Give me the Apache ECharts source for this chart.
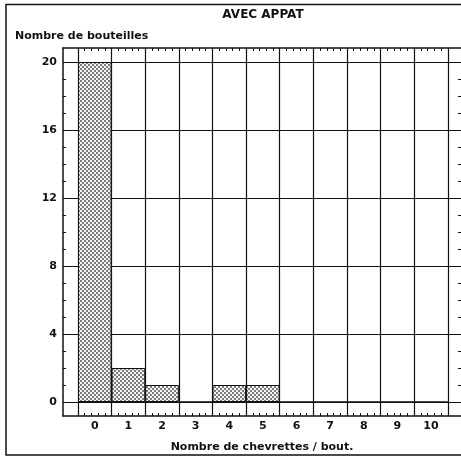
<!DOCTYPE html>
<html>
<head>
<meta charset="utf-8">
<title>AVEC APPAT</title>
<script src="https://cdn.jsdelivr.net/npm/echarts@6/dist/echarts.min.js"></script>
<style>
  html, body { margin: 0; padding: 0; background: #fff; }
  #chart { width: 461px; height: 458px; }
</style>
</head>
<body>
<div id="chart"></div>
<script>
// Number of shrimp caught per bottle (x) and how many bottles had that catch (y)
const categories = ['0', '1', '2', '3', '4', '5', '6', '7', '8', '9', '10'];
const bottleCounts = [20, 2, 1, 0, 1, 1, 0, 0, 0, 0, 0];
const yMin = 0;
const yMax = 20;
const yStep = 4;

const chartTitle = 'AVEC APPAT';
const yName = 'Nombre de bouteilles';
const xName = 'Nombre de chevrettes / bout.';

const FONT = '"DejaVu Sans", sans-serif';
const INK = '#111';

// Stippled fill for the bars
function makeStipple() {
  const c = document.createElement('canvas');
  c.width = 4; c.height = 4;
  const g = c.getContext('2d');
  g.fillStyle = '#f4f4f4';
  g.fillRect(0, 0, 4, 4);
  g.fillStyle = '#444';
  g.beginPath(); g.arc(1, 1, 0.9, 0, Math.PI * 2); g.fill();
  g.beginPath(); g.arc(3, 3, 0.9, 0, Math.PI * 2); g.fill();
  return c;
}

// Frame rows: value 0 sits 14px above the bottom frame, 20 sits 14px below the top
const pxPerUnit = 17;
const pad = 14 / pxPerUnit;

const chart = echarts.init(document.getElementById('chart'), null, { renderer: 'canvas' });

// ticks pointing into the plot (negative length turns them inward)
const innerTicks = () => ({ show: true, length: -3, lineStyle: { color: INK, width: 1 } });
const innerMinor = (n) => ({ show: true, splitNumber: n, length: -3, lineStyle: { color: INK, width: 1 } });
const frameLine = { show: true, onZero: false, lineStyle: { color: INK, width: 1.5 } };

chart.setOption({
  animation: false,
  backgroundColor: '#fff',
  grid: [
    // outer plot frame (its right side runs past the page edge)
    { left: 63, width: 400, top: 48, bottom: 42 },
    // category columns
    { left: 78, width: 369.8, top: 48, bottom: 42 },
    // value rows
    { left: 63, width: 400, top: 62, bottom: 56 }
  ],
  xAxis: [
    {
      gridIndex: 0, type: 'value', min: 0, max: 1, position: 'bottom',
      axisLine: frameLine, axisTick: { show: false }, axisLabel: { show: false }, splitLine: { show: false }
    },
    {
      gridIndex: 1, type: 'category', data: categories, position: 'bottom',
      boundaryGap: true,
      axisLine: { show: false, onZero: false },
      axisTick: { show: false },
      axisLabel: { margin: 5, color: INK, fontFamily: FONT, fontWeight: 'bold', fontSize: 11 },
      splitLine: { show: true, lineStyle: { color: INK, width: 1.2 } }
    },
    {
      gridIndex: 1, type: 'value', min: -0.5, max: 10.5, interval: 1, position: 'bottom',
      axisLine: { show: false, onZero: false },
      axisTick: innerTicks(),
      axisLabel: { show: false },
      splitLine: { show: false },
      minorTick: innerMinor(5)
    },
    {
      gridIndex: 1, type: 'value', min: -0.5, max: 10.5, interval: 1, position: 'top',
      axisLine: { show: false, onZero: false },
      axisTick: innerTicks(),
      axisLabel: { show: false },
      splitLine: { show: false },
      minorTick: innerMinor(5)
    },
    { gridIndex: 2, type: 'value', min: 0, max: 1, show: false },
    {
      gridIndex: 0, type: 'value', min: 0, max: 1, position: 'top',
      axisLine: frameLine, axisTick: { show: false }, axisLabel: { show: false }, splitLine: { show: false }
    }
  ],
  yAxis: [
    {
      gridIndex: 0, type: 'value', min: 0, max: 1, position: 'left',
      axisLine: frameLine, axisTick: { show: false }, axisLabel: { show: false }, splitLine: { show: false }
    },
    {
      gridIndex: 1, type: 'value', min: yMin - pad, max: yMax + pad,
      axisLine: { show: false, onZero: false },
      axisTick: { show: false },
      axisLabel: { show: false },
      splitLine: { show: false }
    },
    {
      gridIndex: 2, type: 'value', min: yMin, max: yMax, interval: yStep, position: 'left',
      axisLine: { show: false, onZero: false },
      axisTick: innerTicks(),
      axisLabel: { margin: 6, color: INK, fontFamily: FONT, fontWeight: 'bold', fontSize: 11 },
      splitLine: { show: true, lineStyle: { color: INK, width: 1.2 } },
      minorTick: innerMinor(4)
    },
    {
      gridIndex: 2, type: 'value', min: yMin, max: yMax, interval: yStep, position: 'right',
      axisLine: { show: false, onZero: false },
      axisTick: innerTicks(),
      axisLabel: { show: false },
      splitLine: { show: false },
      minorTick: innerMinor(4)
    }
  ],
  series: [
    {
      type: 'bar',
      xAxisIndex: 1,
      yAxisIndex: 1,
      data: bottleCounts,
      barCategoryGap: '0%',
      barGap: '0%',
      z: 1,
      itemStyle: {
        color: { image: makeStipple(), repeat: 'repeat' },
        borderColor: INK,
        borderWidth: 1
      }
    }
  ],
  graphic: [
    {
      type: 'rect', silent: true, z: 0,
      shape: { x: 6, y: 4.5, width: 470, height: 450.5 },
      style: { fill: 'none', stroke: INK, lineWidth: 1.5 }
    },
    {
      type: 'text', silent: true,
      position: [263, 15],
      style: { text: chartTitle, fill: INK, font: 'bold 12px ' + FONT, textAlign: 'center', textVerticalAlign: 'middle' }
    },
    {
      type: 'text', silent: true,
      position: [15, 36],
      style: { text: yName, fill: INK, font: 'bold 11px ' + FONT, textAlign: 'left', textVerticalAlign: 'middle' }
    },
    {
      type: 'text', silent: true,
      position: [262, 447],
      style: { text: xName, fill: INK, font: 'bold 11px ' + FONT, textAlign: 'center', textVerticalAlign: 'middle' }
    }
  ]
});
</script>
</body>
</html>
